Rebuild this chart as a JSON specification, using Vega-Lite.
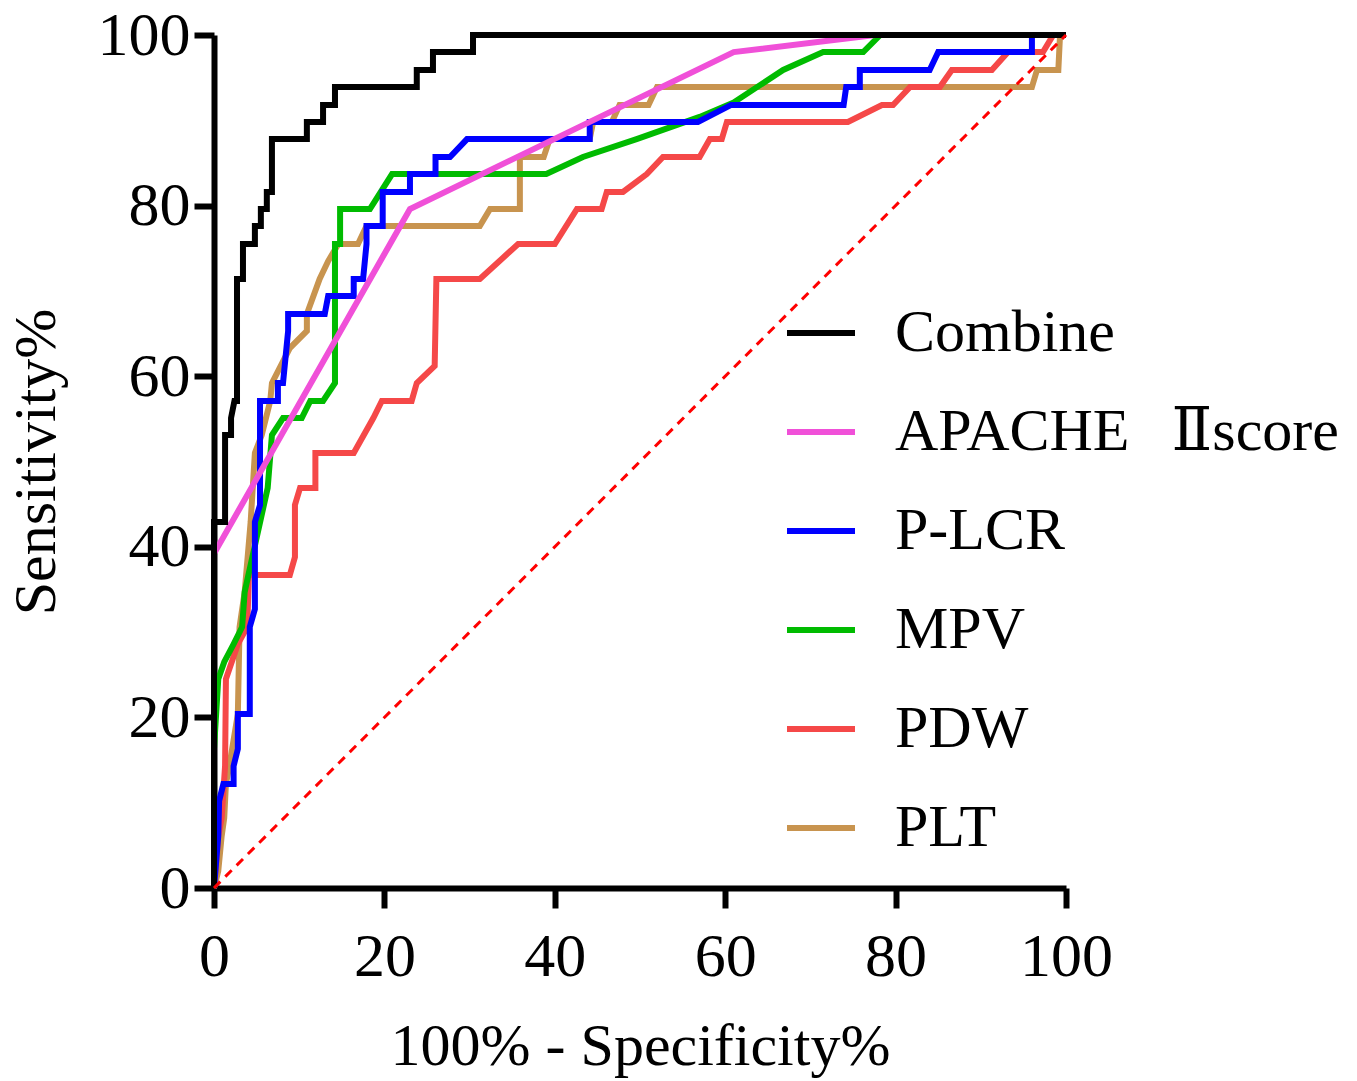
{
  "$schema": "https://vega.github.io/schema/vega-lite/v6.json",
  "autosize": "none",
  "width": 852,
  "height": 853,
  "padding": {"left": 214, "top": 35, "right": 291, "bottom": 193},
  "background": "white",
  "config": {
    "view": {"stroke": null},
    "font": "Liberation Serif",
    "axis": {
      "grid": false,
      "domainColor": "black",
      "domainWidth": 6,
      "tickColor": "black",
      "tickWidth": 6,
      "tickSize": 20,
      "labelFont": "Liberation Serif",
      "labelFontSize": 60,
      "labelColor": "black",
      "titleFont": "Liberation Serif",
      "titleFontSize": 60,
      "titleFontWeight": "normal",
      "titleColor": "black"
    }
  },
  "datasets": {
    "roc": [
      {"s": "PLT", "k": 1, "fpr": 0, "sens": 0},
      {"s": "PLT", "k": 2, "fpr": 0.5, "sens": 2.0},
      {"s": "PLT", "k": 3, "fpr": 0.9, "sens": 6.1},
      {"s": "PLT", "k": 4, "fpr": 1.2, "sens": 8.2},
      {"s": "PLT", "k": 5, "fpr": 1.4, "sens": 12.2},
      {"s": "PLT", "k": 6, "fpr": 1.8, "sens": 14.3},
      {"s": "PLT", "k": 7, "fpr": 2.8, "sens": 20.4},
      {"s": "PLT", "k": 8, "fpr": 3.0, "sens": 30.6},
      {"s": "PLT", "k": 9, "fpr": 3.6, "sens": 34.7},
      {"s": "PLT", "k": 10, "fpr": 4.3, "sens": 42.9},
      {"s": "PLT", "k": 11, "fpr": 4.8, "sens": 51.0},
      {"s": "PLT", "k": 12, "fpr": 5.6, "sens": 53.1},
      {"s": "PLT", "k": 13, "fpr": 6.6, "sens": 57.1},
      {"s": "PLT", "k": 14, "fpr": 6.8, "sens": 59.2},
      {"s": "PLT", "k": 15, "fpr": 8.9, "sens": 63.3},
      {"s": "PLT", "k": 16, "fpr": 10.9, "sens": 65.3},
      {"s": "PLT", "k": 17, "fpr": 10.9, "sens": 67.3},
      {"s": "PLT", "k": 18, "fpr": 12.4, "sens": 71.4},
      {"s": "PLT", "k": 19, "fpr": 13.4, "sens": 73.5},
      {"s": "PLT", "k": 20, "fpr": 14.6, "sens": 75.5},
      {"s": "PLT", "k": 21, "fpr": 16.9, "sens": 75.5},
      {"s": "PLT", "k": 22, "fpr": 17.9, "sens": 77.6},
      {"s": "PLT", "k": 23, "fpr": 31.2, "sens": 77.6},
      {"s": "PLT", "k": 24, "fpr": 32.4, "sens": 79.6},
      {"s": "PLT", "k": 25, "fpr": 35.9, "sens": 79.6},
      {"s": "PLT", "k": 26, "fpr": 35.9, "sens": 85.7},
      {"s": "PLT", "k": 27, "fpr": 38.7, "sens": 85.7},
      {"s": "PLT", "k": 28, "fpr": 39.4, "sens": 87.8},
      {"s": "PLT", "k": 29, "fpr": 44.1, "sens": 87.8},
      {"s": "PLT", "k": 30, "fpr": 44.5, "sens": 89.8},
      {"s": "PLT", "k": 31, "fpr": 46.7, "sens": 89.8},
      {"s": "PLT", "k": 32, "fpr": 47.6, "sens": 91.8},
      {"s": "PLT", "k": 33, "fpr": 51.0, "sens": 91.8},
      {"s": "PLT", "k": 34, "fpr": 52.0, "sens": 93.9},
      {"s": "PLT", "k": 35, "fpr": 96.0, "sens": 93.9},
      {"s": "PLT", "k": 36, "fpr": 96.6, "sens": 95.9},
      {"s": "PLT", "k": 37, "fpr": 99.1, "sens": 95.9},
      {"s": "PLT", "k": 38, "fpr": 99.3, "sens": 100},
      {"s": "PLT", "k": 39, "fpr": 100, "sens": 100},

      {"s": "PDW", "k": 1, "fpr": 0, "sens": 0},
      {"s": "PDW", "k": 2, "fpr": 0.5, "sens": 6.1},
      {"s": "PDW", "k": 3, "fpr": 0.9, "sens": 8.2},
      {"s": "PDW", "k": 4, "fpr": 1.3, "sens": 14.3},
      {"s": "PDW", "k": 5, "fpr": 1.4, "sens": 24.5},
      {"s": "PDW", "k": 6, "fpr": 2.8, "sens": 28.6},
      {"s": "PDW", "k": 7, "fpr": 3.9, "sens": 30.6},
      {"s": "PDW", "k": 8, "fpr": 4.1, "sens": 36.7},
      {"s": "PDW", "k": 9, "fpr": 8.9, "sens": 36.7},
      {"s": "PDW", "k": 10, "fpr": 9.5, "sens": 38.8},
      {"s": "PDW", "k": 11, "fpr": 9.5, "sens": 44.9},
      {"s": "PDW", "k": 12, "fpr": 10.1, "sens": 46.9},
      {"s": "PDW", "k": 13, "fpr": 11.9, "sens": 46.9},
      {"s": "PDW", "k": 14, "fpr": 11.9, "sens": 51.0},
      {"s": "PDW", "k": 15, "fpr": 16.4, "sens": 51.0},
      {"s": "PDW", "k": 16, "fpr": 18.7, "sens": 55.1},
      {"s": "PDW", "k": 17, "fpr": 19.7, "sens": 57.1},
      {"s": "PDW", "k": 18, "fpr": 23.2, "sens": 57.1},
      {"s": "PDW", "k": 19, "fpr": 23.8, "sens": 59.2},
      {"s": "PDW", "k": 20, "fpr": 25.9, "sens": 61.2},
      {"s": "PDW", "k": 21, "fpr": 26.1, "sens": 71.4},
      {"s": "PDW", "k": 22, "fpr": 31.2, "sens": 71.4},
      {"s": "PDW", "k": 23, "fpr": 35.7, "sens": 75.5},
      {"s": "PDW", "k": 24, "fpr": 40.0, "sens": 75.5},
      {"s": "PDW", "k": 25, "fpr": 42.6, "sens": 79.6},
      {"s": "PDW", "k": 26, "fpr": 45.5, "sens": 79.6},
      {"s": "PDW", "k": 27, "fpr": 46.1, "sens": 81.6},
      {"s": "PDW", "k": 28, "fpr": 48.0, "sens": 81.6},
      {"s": "PDW", "k": 29, "fpr": 50.8, "sens": 83.7},
      {"s": "PDW", "k": 30, "fpr": 52.7, "sens": 85.7},
      {"s": "PDW", "k": 31, "fpr": 57.0, "sens": 85.7},
      {"s": "PDW", "k": 32, "fpr": 58.2, "sens": 87.8},
      {"s": "PDW", "k": 33, "fpr": 59.6, "sens": 87.8},
      {"s": "PDW", "k": 34, "fpr": 60.2, "sens": 89.8},
      {"s": "PDW", "k": 35, "fpr": 74.4, "sens": 89.8},
      {"s": "PDW", "k": 36, "fpr": 78.4, "sens": 91.8},
      {"s": "PDW", "k": 37, "fpr": 79.7, "sens": 91.8},
      {"s": "PDW", "k": 38, "fpr": 81.7, "sens": 93.9},
      {"s": "PDW", "k": 39, "fpr": 85.2, "sens": 93.9},
      {"s": "PDW", "k": 40, "fpr": 86.6, "sens": 95.9},
      {"s": "PDW", "k": 41, "fpr": 91.3, "sens": 95.9},
      {"s": "PDW", "k": 42, "fpr": 93.2, "sens": 98.0},
      {"s": "PDW", "k": 43, "fpr": 97.3, "sens": 98.0},
      {"s": "PDW", "k": 44, "fpr": 98.5, "sens": 100},
      {"s": "PDW", "k": 45, "fpr": 100, "sens": 100},

      {"s": "MPV", "k": 1, "fpr": 0, "sens": 0},
      {"s": "MPV", "k": 2, "fpr": 0, "sens": 16.3},
      {"s": "MPV", "k": 3, "fpr": 0.5, "sens": 24.5},
      {"s": "MPV", "k": 4, "fpr": 1.2, "sens": 26.5},
      {"s": "MPV", "k": 5, "fpr": 2.3, "sens": 28.6},
      {"s": "MPV", "k": 6, "fpr": 3.3, "sens": 30.6},
      {"s": "MPV", "k": 7, "fpr": 3.6, "sens": 34.7},
      {"s": "MPV", "k": 8, "fpr": 4.5, "sens": 38.8},
      {"s": "MPV", "k": 9, "fpr": 6.3, "sens": 46.9},
      {"s": "MPV", "k": 10, "fpr": 6.8, "sens": 53.1},
      {"s": "MPV", "k": 11, "fpr": 8.1, "sens": 55.1},
      {"s": "MPV", "k": 12, "fpr": 10.3, "sens": 55.1},
      {"s": "MPV", "k": 13, "fpr": 11.3, "sens": 57.1},
      {"s": "MPV", "k": 14, "fpr": 12.8, "sens": 57.1},
      {"s": "MPV", "k": 15, "fpr": 14.2, "sens": 59.2},
      {"s": "MPV", "k": 16, "fpr": 14.2, "sens": 75.5},
      {"s": "MPV", "k": 17, "fpr": 14.8, "sens": 75.5},
      {"s": "MPV", "k": 18, "fpr": 14.8, "sens": 79.6},
      {"s": "MPV", "k": 19, "fpr": 18.3, "sens": 79.6},
      {"s": "MPV", "k": 20, "fpr": 20.9, "sens": 83.7},
      {"s": "MPV", "k": 21, "fpr": 39.0, "sens": 83.7},
      {"s": "MPV", "k": 22, "fpr": 43.3, "sens": 85.7},
      {"s": "MPV", "k": 23, "fpr": 49.6, "sens": 87.8},
      {"s": "MPV", "k": 24, "fpr": 57.0, "sens": 90.4},
      {"s": "MPV", "k": 25, "fpr": 61.0, "sens": 92.1},
      {"s": "MPV", "k": 26, "fpr": 66.8, "sens": 95.9},
      {"s": "MPV", "k": 27, "fpr": 71.5, "sens": 98.0},
      {"s": "MPV", "k": 28, "fpr": 76.2, "sens": 98.0},
      {"s": "MPV", "k": 29, "fpr": 78.2, "sens": 100},
      {"s": "MPV", "k": 30, "fpr": 100, "sens": 100},

      {"s": "P-LCR", "k": 1, "fpr": 0, "sens": 0},
      {"s": "P-LCR", "k": 2, "fpr": 0.5, "sens": 6.1},
      {"s": "P-LCR", "k": 3, "fpr": 0.6, "sens": 10.2},
      {"s": "P-LCR", "k": 4, "fpr": 1.1, "sens": 12.2},
      {"s": "P-LCR", "k": 5, "fpr": 2.3, "sens": 12.2},
      {"s": "P-LCR", "k": 6, "fpr": 2.3, "sens": 14.3},
      {"s": "P-LCR", "k": 7, "fpr": 2.8, "sens": 16.3},
      {"s": "P-LCR", "k": 8, "fpr": 2.8, "sens": 20.4},
      {"s": "P-LCR", "k": 9, "fpr": 4.2, "sens": 20.4},
      {"s": "P-LCR", "k": 10, "fpr": 4.2, "sens": 30.6},
      {"s": "P-LCR", "k": 11, "fpr": 4.8, "sens": 32.7},
      {"s": "P-LCR", "k": 12, "fpr": 4.8, "sens": 42.9},
      {"s": "P-LCR", "k": 13, "fpr": 5.4, "sens": 44.9},
      {"s": "P-LCR", "k": 14, "fpr": 5.4, "sens": 57.1},
      {"s": "P-LCR", "k": 15, "fpr": 7.5, "sens": 57.1},
      {"s": "P-LCR", "k": 16, "fpr": 7.5, "sens": 59.2},
      {"s": "P-LCR", "k": 17, "fpr": 8.1, "sens": 59.2},
      {"s": "P-LCR", "k": 18, "fpr": 8.7, "sens": 65.3},
      {"s": "P-LCR", "k": 19, "fpr": 8.7, "sens": 67.3},
      {"s": "P-LCR", "k": 20, "fpr": 13.0, "sens": 67.3},
      {"s": "P-LCR", "k": 21, "fpr": 13.4, "sens": 69.4},
      {"s": "P-LCR", "k": 22, "fpr": 16.4, "sens": 69.4},
      {"s": "P-LCR", "k": 23, "fpr": 16.4, "sens": 71.4},
      {"s": "P-LCR", "k": 24, "fpr": 17.5, "sens": 71.4},
      {"s": "P-LCR", "k": 25, "fpr": 17.9, "sens": 75.5},
      {"s": "P-LCR", "k": 26, "fpr": 17.9, "sens": 77.6},
      {"s": "P-LCR", "k": 27, "fpr": 19.8, "sens": 77.6},
      {"s": "P-LCR", "k": 28, "fpr": 19.8, "sens": 81.6},
      {"s": "P-LCR", "k": 29, "fpr": 23.0, "sens": 81.6},
      {"s": "P-LCR", "k": 30, "fpr": 23.0, "sens": 83.7},
      {"s": "P-LCR", "k": 31, "fpr": 26.0, "sens": 83.7},
      {"s": "P-LCR", "k": 32, "fpr": 26.0, "sens": 85.7},
      {"s": "P-LCR", "k": 33, "fpr": 27.7, "sens": 85.7},
      {"s": "P-LCR", "k": 34, "fpr": 29.7, "sens": 87.8},
      {"s": "P-LCR", "k": 35, "fpr": 44.1, "sens": 87.8},
      {"s": "P-LCR", "k": 36, "fpr": 44.1, "sens": 89.8},
      {"s": "P-LCR", "k": 37, "fpr": 56.8, "sens": 89.8},
      {"s": "P-LCR", "k": 38, "fpr": 60.7, "sens": 91.8},
      {"s": "P-LCR", "k": 39, "fpr": 73.9, "sens": 91.8},
      {"s": "P-LCR", "k": 40, "fpr": 74.2, "sens": 93.9},
      {"s": "P-LCR", "k": 41, "fpr": 75.8, "sens": 93.9},
      {"s": "P-LCR", "k": 42, "fpr": 75.8, "sens": 95.9},
      {"s": "P-LCR", "k": 43, "fpr": 84.0, "sens": 95.9},
      {"s": "P-LCR", "k": 44, "fpr": 85.0, "sens": 98.0},
      {"s": "P-LCR", "k": 45, "fpr": 96.0, "sens": 98.0},
      {"s": "P-LCR", "k": 46, "fpr": 96.0, "sens": 100},
      {"s": "P-LCR", "k": 47, "fpr": 100, "sens": 100},

      {"s": "APACHE\u00a0\u2009 Ⅱscore", "k": 1, "fpr": 0, "sens": 39.2},
      {"s": "APACHE\u00a0\u2009 Ⅱscore", "k": 2, "fpr": 23.0, "sens": 79.6},
      {"s": "APACHE\u00a0\u2009 Ⅱscore", "k": 3, "fpr": 61.0, "sens": 98.0},
      {"s": "APACHE\u00a0\u2009 Ⅱscore", "k": 4, "fpr": 77.6, "sens": 100},
      {"s": "APACHE\u00a0\u2009 Ⅱscore", "k": 5, "fpr": 100, "sens": 100},

      {"s": "Combine", "k": 1, "fpr": 0, "sens": 0},
      {"s": "Combine", "k": 2, "fpr": 0, "sens": 42.9},
      {"s": "Combine", "k": 3, "fpr": 1.3, "sens": 42.9},
      {"s": "Combine", "k": 4, "fpr": 1.3, "sens": 53.1},
      {"s": "Combine", "k": 5, "fpr": 2.0, "sens": 53.1},
      {"s": "Combine", "k": 6, "fpr": 2.0, "sens": 55.1},
      {"s": "Combine", "k": 7, "fpr": 2.4, "sens": 57.1},
      {"s": "Combine", "k": 8, "fpr": 2.7, "sens": 57.1},
      {"s": "Combine", "k": 9, "fpr": 2.7, "sens": 71.4},
      {"s": "Combine", "k": 10, "fpr": 3.4, "sens": 71.4},
      {"s": "Combine", "k": 11, "fpr": 3.4, "sens": 75.5},
      {"s": "Combine", "k": 12, "fpr": 4.8, "sens": 75.5},
      {"s": "Combine", "k": 13, "fpr": 4.8, "sens": 77.6},
      {"s": "Combine", "k": 14, "fpr": 5.5, "sens": 77.6},
      {"s": "Combine", "k": 15, "fpr": 5.5, "sens": 79.6},
      {"s": "Combine", "k": 16, "fpr": 6.2, "sens": 79.6},
      {"s": "Combine", "k": 17, "fpr": 6.2, "sens": 81.6},
      {"s": "Combine", "k": 18, "fpr": 6.8, "sens": 81.6},
      {"s": "Combine", "k": 19, "fpr": 6.8, "sens": 87.8},
      {"s": "Combine", "k": 20, "fpr": 10.9, "sens": 87.8},
      {"s": "Combine", "k": 21, "fpr": 10.9, "sens": 89.8},
      {"s": "Combine", "k": 22, "fpr": 12.8, "sens": 89.8},
      {"s": "Combine", "k": 23, "fpr": 12.8, "sens": 91.8},
      {"s": "Combine", "k": 24, "fpr": 14.2, "sens": 91.8},
      {"s": "Combine", "k": 25, "fpr": 14.2, "sens": 93.9},
      {"s": "Combine", "k": 26, "fpr": 23.8, "sens": 93.9},
      {"s": "Combine", "k": 27, "fpr": 23.8, "sens": 95.9},
      {"s": "Combine", "k": 28, "fpr": 25.7, "sens": 95.9},
      {"s": "Combine", "k": 29, "fpr": 25.7, "sens": 98.0},
      {"s": "Combine", "k": 30, "fpr": 30.4, "sens": 98.0},
      {"s": "Combine", "k": 31, "fpr": 30.4, "sens": 100},
      {"s": "Combine", "k": 32, "fpr": 100, "sens": 100}
    ],
    "ref": [
      {"fpr": 0, "sens": 0},
      {"fpr": 100, "sens": 100}
    ]
  },
  "layer": [
    {
      "data": {"name": "roc"},
      "mark": {"type": "line", "strokeWidth": 6, "strokeJoin": "miter", "strokeCap": "butt", "clip": false},
      "encoding": {
        "x": {
          "field": "fpr", "type": "quantitative",
          "scale": {"domain": [0, 100], "nice": false, "zero": true},
          "axis": {"values": [0, 20, 40, 60, 80, 100], "title": "100% - Specificity%", "labelPadding": 18, "labelFontSize": 62, "titlePadding": 30, "labelFlush": false}
        },
        "y": {
          "field": "sens", "type": "quantitative",
          "scale": {"domain": [0, 100], "nice": false, "zero": true},
          "axis": {"values": [0, 20, 40, 60, 80, 100], "title": "Sensitivity%", "labelPadding": 4, "labelFontSize": 62, "titlePadding": 30, "labelFlush": false}
        },
        "color": {
          "field": "s", "type": "nominal",
          "scale": {
            "domain": ["Combine", "APACHE\u00a0\u2009 Ⅱscore", "P-LCR", "MPV", "PDW", "PLT"],
            "range": ["#000000", "#F050D8", "#0000FF", "#00BB00", "#F54848", "#C8944F"]
          },
          "legend": {
            "title": null,
            "orient": "none",
            "legendX": 570,
            "legendY": 261,
            "symbolType": "stroke",
            "symbolSize": 4624,
            "symbolStrokeWidth": 6,
            "labelFont": "Liberation Serif, DejaVu Serif, Noto Sans CJK SC",
            "labelFontSize": 60,
            "labelColor": "black",
            "labelOffset": 37,
            "rowPadding": 32,
            "padding": 0,
            "labelLimit": 600
          }
        },
        "order": {"field": "k", "type": "quantitative"}
      }
    },
    {
      "data": {"name": "ref"},
      "mark": {"type": "line", "color": "#FF0000", "strokeWidth": 3, "strokeDash": [9, 7]},
      "encoding": {
        "x": {"field": "fpr", "type": "quantitative"},
        "y": {"field": "sens", "type": "quantitative"}
      }
    }
  ]
}
